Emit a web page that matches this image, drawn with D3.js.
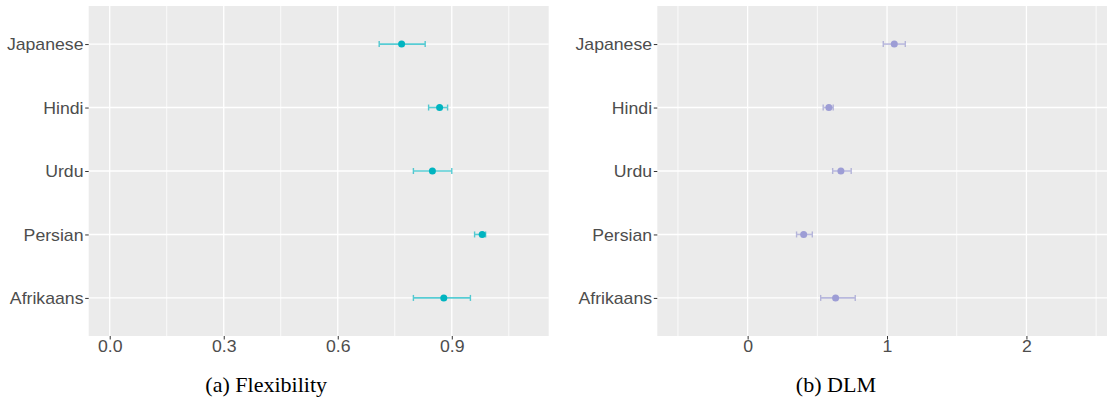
<!DOCTYPE html>
<html>
<head>
<meta charset="utf-8">
<script src="https://cdn.jsdelivr.net/npm/d3@7"></script>
<style>
html,body{margin:0;padding:0;background:#fff;}
svg{display:block;}
</style>
</head>
<body>
<svg id="chart" width="1107" height="401"></svg>
<script>
// ---- data ----
const categories = ["Japanese","Hindi","Urdu","Persian","Afrikaans"];
const flexMean = [0.768, 0.868, 0.849, 0.980, 0.879];
const flexLow  = [0.709, 0.839, 0.799, 0.960, 0.799];
const flexHigh = [0.830, 0.889, 0.900, 0.989, 0.949];
const dlmMean  = [1.052, 0.583, 0.669, 0.402, 0.631];
const dlmLow   = [0.973, 0.542, 0.610, 0.351, 0.524];
const dlmHigh  = [1.131, 0.614, 0.743, 0.464, 0.772];
const flexTicks = [0, 0.3, 0.6, 0.9];
const flexTickLabels = ["0.0","0.3","0.6","0.9"];
const flexMinor = [0.15, 0.45, 0.75, 1.05];
const dlmTicks = [0, 1, 2];
const dlmTickLabels = ["0","1","2"];
const dlmMinor = [-0.5, 0.5, 1.5, 2.5];
const captions = ["(a) Flexibility", "(b) DLM"];

// ---- layout ----
const svg = d3.select("#chart");
const panelTop = 6, panelBottom = 336;
const SX = 1.04; // horizontal text stretch of the reference

const panels = [
  {x0: 88.7, x1: 548.7, domain: [-0.0553, 1.155], mean: flexMean, low: flexLow, high: flexHigh,
   ticks: flexTicks, labels: flexTickLabels, minor: flexMinor, color: "#00B4C0", barColor: "#00B4C0",
   caption: captions[0], capX: 266.2},
  {x0: 657.3, x1: 1107, domain: [-0.648, 2.578], mean: dlmMean, low: dlmLow, high: dlmHigh,
   ticks: dlmTicks, labels: dlmTickLabels, minor: dlmMinor, color: "#9D9DD5", barColor: "#9696CF",
   caption: captions[1], capX: 835.9}
];

const y = d3.scalePoint().domain(categories).range([panelTop, panelBottom]).padding(0.6);

panels.forEach(p => {
  const x = d3.scaleLinear().domain(p.domain).range([p.x0, p.x1]);
  const g = svg.append("g");
  g.append("rect").attr("x", p.x0).attr("y", panelTop).attr("width", p.x1 - p.x0).attr("height", panelBottom - panelTop)
    .attr("fill", "#EBEBEB");
  g.selectAll(".minor").data(p.minor).enter().append("line")
    .attr("x1", d => x(d)).attr("x2", d => x(d)).attr("y1", panelTop).attr("y2", panelBottom)
    .attr("stroke", "#fff").attr("stroke-width", 0.8);
  g.selectAll(".majx").data(p.ticks).enter().append("line")
    .attr("x1", d => x(d)).attr("x2", d => x(d)).attr("y1", panelTop).attr("y2", panelBottom)
    .attr("stroke", "#fff").attr("stroke-width", 1.3);
  g.selectAll(".majy").data(categories).enter().append("line")
    .attr("x1", p.x0).attr("x2", p.x1).attr("y1", d => y(d)).attr("y2", d => y(d))
    .attr("stroke", "#fff").attr("stroke-width", 1.4);

  const xAxis = d3.axisBottom(x).tickValues(p.ticks).tickFormat((d, i) => p.labels[i]).tickSize(3.5).tickSizeOuter(0);
  const gx = g.append("g").attr("transform", `translate(0,${panelBottom})`).call(xAxis);
  gx.select(".domain").remove();
  gx.selectAll(".tick line").attr("stroke", "#333").attr("stroke-width", 1);
  gx.selectAll(".tick text").attr("y", 16).attr("dy", 0)
    .attr("transform", `scale(${SX},1)`)
    .style("font-family", "'Liberation Sans', Arial, sans-serif").style("font-size", "17px").attr("fill", "#4D4D4D");

  const yAxis = d3.axisLeft(y).tickSize(3.5).tickSizeOuter(0).tickPadding(1.5);
  const gy = g.append("g").attr("transform", `translate(${p.x0},0)`).call(yAxis);
  gy.select(".domain").remove();
  gy.selectAll(".tick line").attr("stroke", "#333").attr("stroke-width", 1);
  gy.selectAll(".tick text").attr("transform", `scale(${SX},1)`).attr("dy", "0.34em")
    .style("font-family", "'Liberation Sans', Arial, sans-serif").style("font-size", "17px").attr("fill", "#4D4D4D");

  const data = categories.map((c, i) => ({c, m: p.mean[i], lo: p.low[i], hi: p.high[i]}));
  const eb = g.selectAll(".eb").data(data).enter().append("g").attr("opacity", 0.65);
  eb.append("line").attr("x1", d => x(d.lo)).attr("x2", d => x(d.hi))
    .attr("y1", d => y(d.c)).attr("y2", d => y(d.c)).attr("stroke", p.barColor).attr("stroke-width", 1.6);
  eb.append("line").attr("x1", d => x(d.lo)).attr("x2", d => x(d.lo))
    .attr("y1", d => y(d.c) - 3).attr("y2", d => y(d.c) + 3).attr("stroke", p.barColor).attr("stroke-width", 1.4);
  eb.append("line").attr("x1", d => x(d.hi)).attr("x2", d => x(d.hi))
    .attr("y1", d => y(d.c) - 3).attr("y2", d => y(d.c) + 3).attr("stroke", p.barColor).attr("stroke-width", 1.4);
  g.selectAll(".pt").data(data).enter().append("circle")
    .attr("cx", d => x(d.m)).attr("cy", d => y(d.c)).attr("r", 3.5).attr("fill", p.color);

  g.append("text").attr("transform", `translate(${p.capX},392) scale(1.05,1)`)
    .attr("text-anchor", "middle")
    .style("font-family", "'Liberation Serif', 'Times New Roman', serif").style("font-size", "21px")
    .attr("fill", "#000").text(p.caption);
});
</script>
</body>
</html>
